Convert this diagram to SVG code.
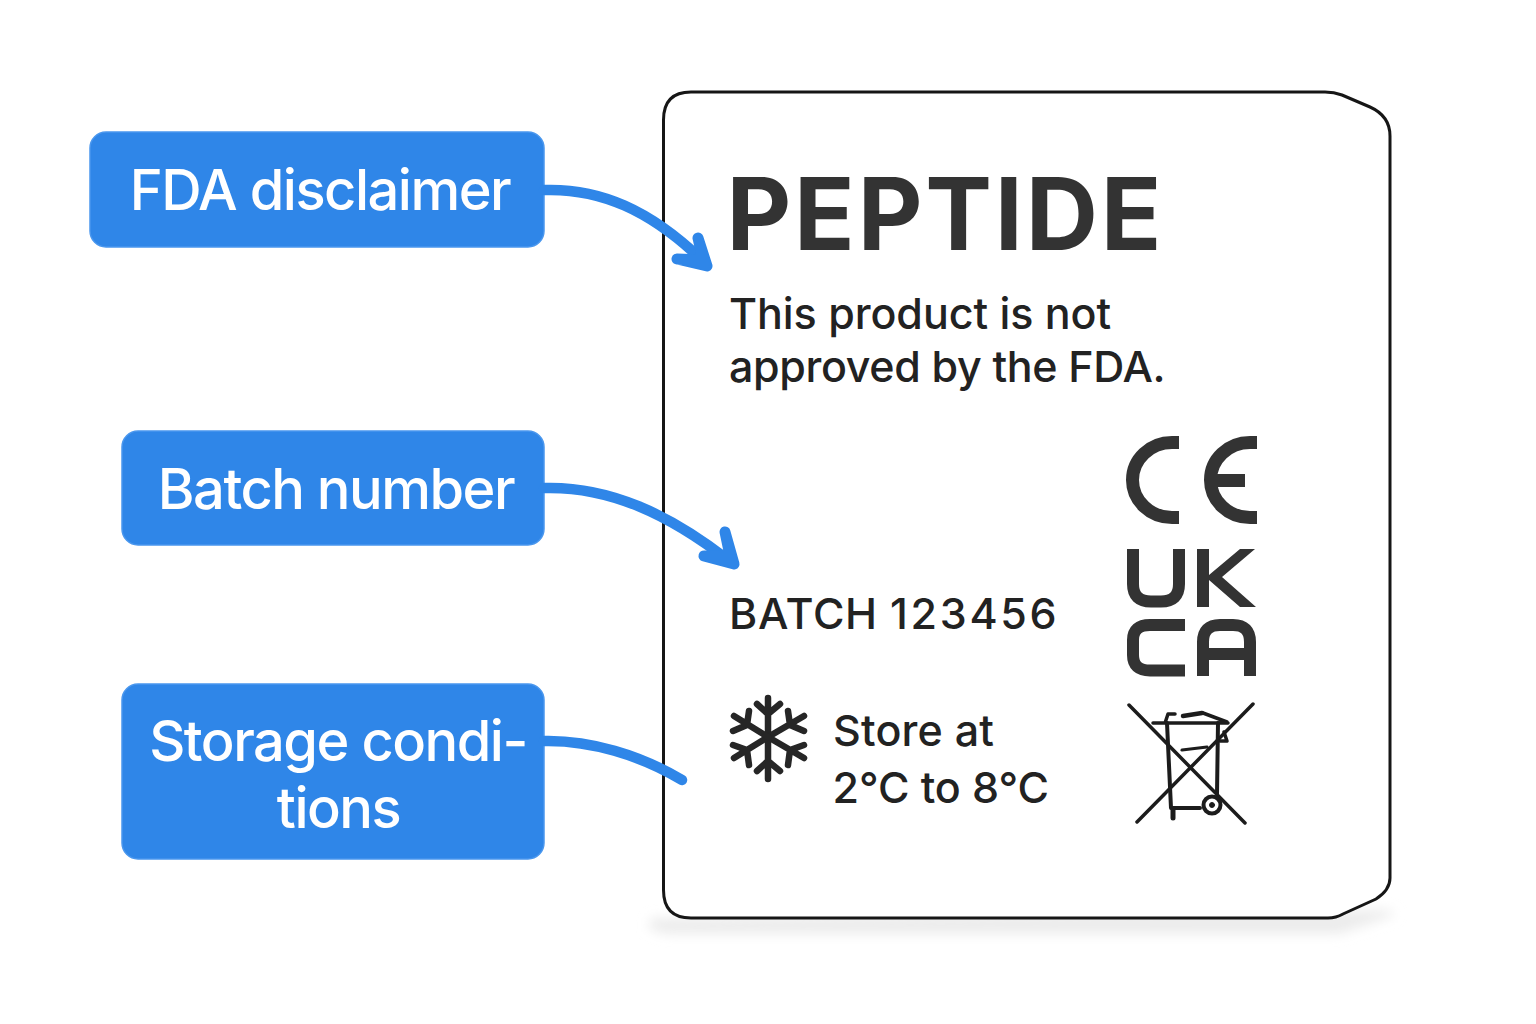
<svg xmlns="http://www.w3.org/2000/svg" width="1536" height="1024" viewBox="0 0 1536 1024">
<defs>
<style>
.box{fill:#2f86e8;stroke:#4a97ee;stroke-width:1.5}
.lbl{font-family:"Inter","Liberation Sans",sans-serif;font-size:56px;font-weight:500;letter-spacing:-1.5px;fill:#fff;text-anchor:middle}
.t{font-family:"Inter","Liberation Sans",sans-serif;fill:#222;font-size:43px;font-weight:450}
.cn{fill:none;stroke:#2f86e8;stroke-width:10.500;stroke-linecap:round;stroke-linejoin:round}
.hd{fill:#2f86e8;stroke:#2f86e8;stroke-width:11;stroke-linejoin:round}
.mk{fill:none;stroke:#333;stroke-width:13;stroke-linejoin:miter}
.mf{fill:#333}
.ln{fill:none;stroke:#1c1c1c;stroke-linecap:round;stroke-linejoin:round}
</style>
<filter id="sh" x="-10%" y="-200%" width="120%" height="500%"><feGaussianBlur stdDeviation="6"/></filter>
</defs>
<rect width="1536" height="1024" fill="#fff"/>
<g id="label-card">
<path d="M652 918 L1385 910 L1397 914 L1340 934 L665 934 L648 928 Z" fill="#ececec" filter="url(#sh)"/>
<path d="M691 92 H1325 Q1334 92 1342 95 L1370 107 Q1390 116 1390 136 V878 Q1390 890 1376 899 L1343 914 Q1336 918 1328 918 H691 Q663.500 918 663.500 890 V120 Q663.500 92 691 92 Z" fill="#fff" stroke="#161616" stroke-width="3"/>
<text id="t-peptide" x="726.500" y="250" font-family="Inter,'Liberation Sans',sans-serif" font-size="100" font-weight="700" letter-spacing="2.800" fill="#333">PEPTIDE</text>
<text class="t" x="729" y="329" letter-spacing="-0.05">This product is not</text>
<text class="t" x="729" y="382" letter-spacing="-0.35">approved by the FDA.</text>
<text class="t" x="729" y="629" letter-spacing="0.7">BATCH</text>
<text class="t" x="890" y="629" letter-spacing="2.700">123456</text>
<text class="t" x="833" y="746" letter-spacing="0.2">Store at</text>
<text class="t" x="832.500" y="803" letter-spacing="-0.1">2°C to 8°C</text>
</g>
<g id="mark-ce">
<path class="mk" d="M1179 442.500 H1172 A39.500 37.500 0 0 0 1172 517.500 H1179"/>
<path class="mk" d="M1257 442.500 H1250 A39.500 37.500 0 0 0 1250 517.500 H1257 M1210.500 480.500 H1245"/>
</g>
<g id="mark-ukca">
<path class="mk" style="stroke-width:12" d="M1133 549 V584 Q1133 601.500 1151 601.500 H1161 Q1179 601.500 1179 584 V549"/>
<path class="mf" d="M1197 549 H1209 V575 L1240 549 H1255 L1222 577 L1256 607 H1240 L1209 580 V607 H1197 Z"/>
<path class="mk" style="stroke-width:12" d="M1185 625 H1150 Q1133 625 1133 640 V655 Q1133 670.500 1150 670.500 H1185"/>
<path class="mk" style="stroke-width:12" d="M1203 676 V642 Q1203 625 1220 625 H1233 Q1250 625 1250 642 V676 M1203 654 H1250"/>
</g>
<g id="mark-snowflake">
<g class="ln" stroke-width="6.500" style="stroke:#262626">
<path d="M768 737 V698 M768 714 L757 704 M768 714 L780 704"/>
<path d="M768 737 L804 716 M790 725 L788 711 M790 725 L804 731"/>
<path d="M768 737 L804 758 M790 750 L804 745 M790 750 L788 765"/>
<path d="M768 737 V779 M768 761 L757 771 M768 761 L780 771"/>
<path d="M768 737 L734 758 M747 750 L749 765 M747 750 L733 745"/>
<path d="M768 737 L734 716 M747 725 L733 731 M747 725 L749 711"/>
</g>
</g>
<g id="mark-weee" class="ln">
<path d="M1129 705 L1245 823 M1253 704 L1137 822" stroke-width="3.500"/>
<path d="M1167 723 L1171 808 H1200 M1218 723 L1217 794" stroke-width="4"/>
<path d="M1153 723 H1228 M1165 723 L1168 714 H1175 M1203 713 L1227 722" stroke-width="3.500"/>
<path d="M1183 716 L1202 713" stroke-width="4.500"/>
<path d="M1182 750 L1207 747" stroke-width="3"/>
<path d="M1173 809 V818" stroke-width="5"/>
<path d="M1224 732 L1227 741 H1220" stroke-width="3.500"/>
<circle cx="1212" cy="805" r="8.500" fill="#fff" stroke-width="4"/>
<circle cx="1212" cy="805" r="2.500" fill="#1c1c1c" stroke-width="1"/>
</g>
<g id="node-fda">
<rect class="box" x="90" y="132" width="454" height="115" rx="16"/>
<text class="lbl" x="320" y="209.500">FDA disclaimer</text>
</g>
<g id="node-batch">
<rect class="box" x="122" y="431" width="422" height="114" rx="16"/>
<text class="lbl" x="336" y="508.500">Batch number</text>
</g>
<g id="node-storage">
<rect class="box" x="122" y="684" width="422" height="175" rx="16"/>
<text class="lbl" x="338" y="760.500">Storage condi-</text>
<text class="lbl" x="338.500" y="827.500">tions</text>
</g>
<g id="connectors">
<path class="cn" d="M544 190 C600 188 650 210 702 260"/>
<path class="hd" d="M698 238 L707 266 L677 259 L703 260 Z"/>
<path class="cn" d="M544 488 C610 486 670 515 728 560"/>
<path class="hd" d="M725 532 L734 564 L704 556 L730 556 Z"/>
<path class="cn" d="M544 741 C590 740 640 755 682 780"/>
</g>
</svg>
